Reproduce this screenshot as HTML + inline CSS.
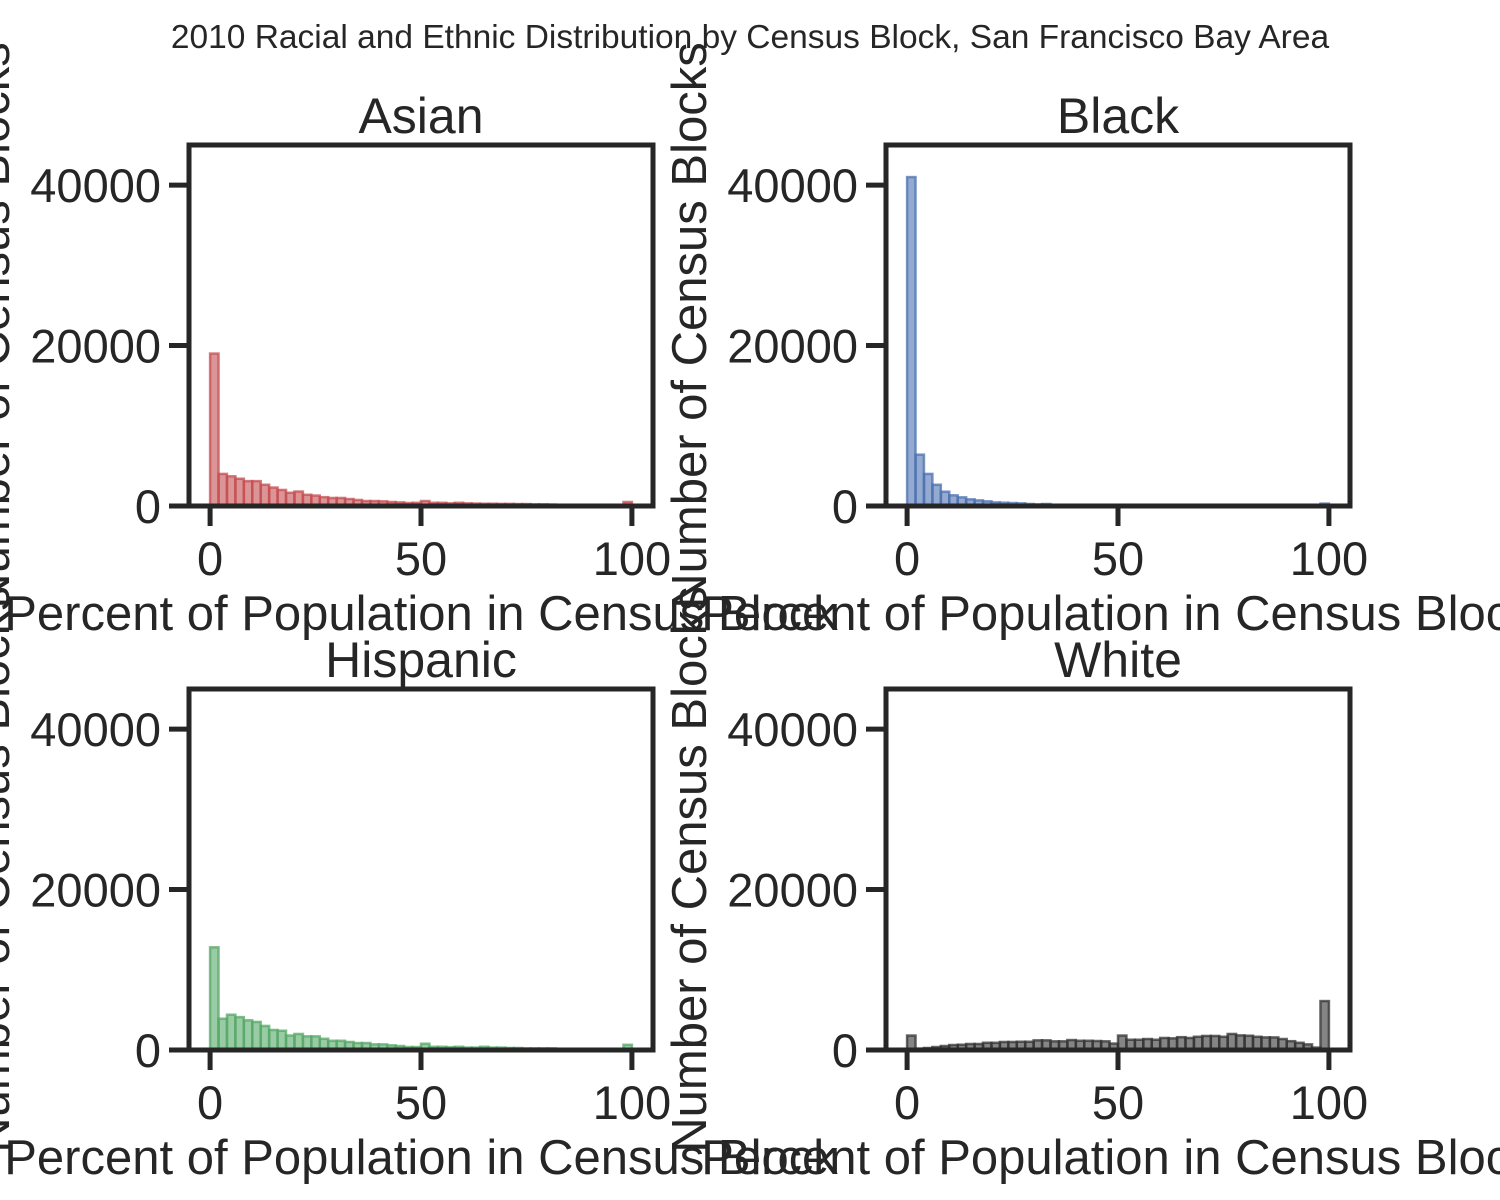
<!DOCTYPE html>
<html><head><meta charset="utf-8"><style>
body{margin:0;background:#fff;}
svg{display:block;font-family:"Liberation Sans",Arial,sans-serif;}
</style></head><body>
<svg id="chart" width="1500" height="1200" viewBox="0 0 1500 1200">
<text x="750" y="48" text-anchor="middle" font-size="33.5" fill="#262626">2010 Racial and Ethnic Distribution by Census Block, San Francisco Bay Area</text>
</svg>
<script>
const binEdgesStart = 0, binWidth = 2;
const xTicks = [0, 50, 100];
const yTicks = [0, 20000, 40000];
const panelTitles = ["Asian", "Black", "Hispanic", "White"];
const asianCounts = [19000,4000,3700,3400,3100,3100,2650,2300,2000,1650,1800,1400,1300,1100,1000,1000,870,750,620,620,580,500,450,370,400,620,400,400,330,400,330,300,280,280,260,260,240,240,200,200,180,150,120,100,80,60,0,0,0,500];
const blackCounts = [41000,6400,4000,2650,1780,1330,1080,830,700,580,450,410,370,330,250,200,250,150,150,120,120,100,100,80,80,150,80,50,40,30,30,20,20,20,20,20,20,20,20,20,20,20,20,20,20,20,20,20,20,300];
const hispanicCounts = [12800,3900,4400,4100,3700,3500,3000,2500,2400,1800,2000,1700,1700,1400,1150,1150,1000,870,870,700,700,580,500,370,370,780,400,400,350,400,300,300,400,300,300,250,250,200,200,200,200,150,150,100,100,80,50,50,0,650];
const whiteCounts = [1800,170,250,370,500,620,660,750,750,900,900,1000,1000,1030,1030,1200,1200,1080,1080,1240,1150,1150,1120,1080,800,1800,1280,1280,1370,1280,1500,1450,1600,1500,1650,1750,1750,1650,2000,1820,1780,1650,1570,1570,1370,1100,900,700,300,6100];

const seriesCounts = [asianCounts, blackCounts, hispanicCounts, whiteCounts];
const fills = ["#c44e52","#4c72b0","#55a868","#333333"];
const panels = [{l:189,t:145},{l:886,t:145},{l:189,t:689},{l:886,t:689}];
const PW = 464, PH = 361, XMIN=-5, XMAX=105, YMAX=45000;
const NS = "http://www.w3.org/2000/svg";
const svg = document.getElementById("chart");
function mk(tag, attrs, parent){const e=document.createElementNS(NS,tag);for(const k in attrs)e.setAttribute(k,attrs[k]);(parent||svg).appendChild(e);return e;}

panels.forEach((p,i)=>{
  const xs = v => p.l + (v-XMIN)/(XMAX-XMIN)*PW;
  const ys = v => p.t + PH - v/YMAX*PH;
  const g = mk("g",{});
  
  
  seriesCounts[i].forEach((c,b)=>{
    if(c<=0) return;
    const x0 = xs(binEdgesStart+b*binWidth), x1 = xs(binEdgesStart+(b+1)*binWidth);
    const r = mk("rect",{x:x0,y:ys(c),width:x1-x0,height:ys(0)-ys(c),fill:fills[i],"fill-opacity":0.6,stroke:fills[i],"stroke-opacity":0.75,"stroke-width":2.5},g);
    
    
  });
  const fr = mk("rect",{x:p.l,y:p.t,width:PW,height:PH,fill:"none",stroke:"#262626","stroke-width":5},g);
  
  
  xTicks.forEach(t=>{
    const x = xs(t);
    const tl = mk("line",{x1:x,x2:x,y1:p.t+PH,y2:p.t+PH+20,stroke:"#262626","stroke-width":5},g);
    
    
    const tx = mk("text",{x:x,y:p.t+PH+69,"text-anchor":"middle","font-size":47,fill:"#262626"},g);
    tx.textContent = t;
    
    
  });
  yTicks.forEach(t=>{
    const y = ys(t);
    const tl = mk("line",{x1:p.l-20,x2:p.l,y1:y,y2:y,stroke:"#262626","stroke-width":5},g);
    
    
    const tx = mk("text",{x:p.l-28,y:y+17,"text-anchor":"end","font-size":47,fill:"#262626"},g);
    tx.textContent = t;
    
    
  });
  const ti = mk("text",{x:p.l+PW/2,y:p.t-12,"text-anchor":"middle","font-size":50,fill:"#262626"},g);
  ti.textContent = panelTitles[i];
  
  
  const xl = mk("text",{x:p.l+PW/2,y:p.t+PH+124,"text-anchor":"middle","font-size":49,fill:"#262626"},g);
  xl.textContent = "Percent of Population in Census Block";
  
  
  const lx = p.l-180, ly = p.t+PH/2;
  const yl = mk("text",{x:lx,y:ly,"text-anchor":"middle","font-size":49,fill:"#262626",transform:`rotate(-90 ${lx} ${ly})`},g);
  yl.textContent = "Number of Census Blocks";
  
  
});
</script>
</body></html>
